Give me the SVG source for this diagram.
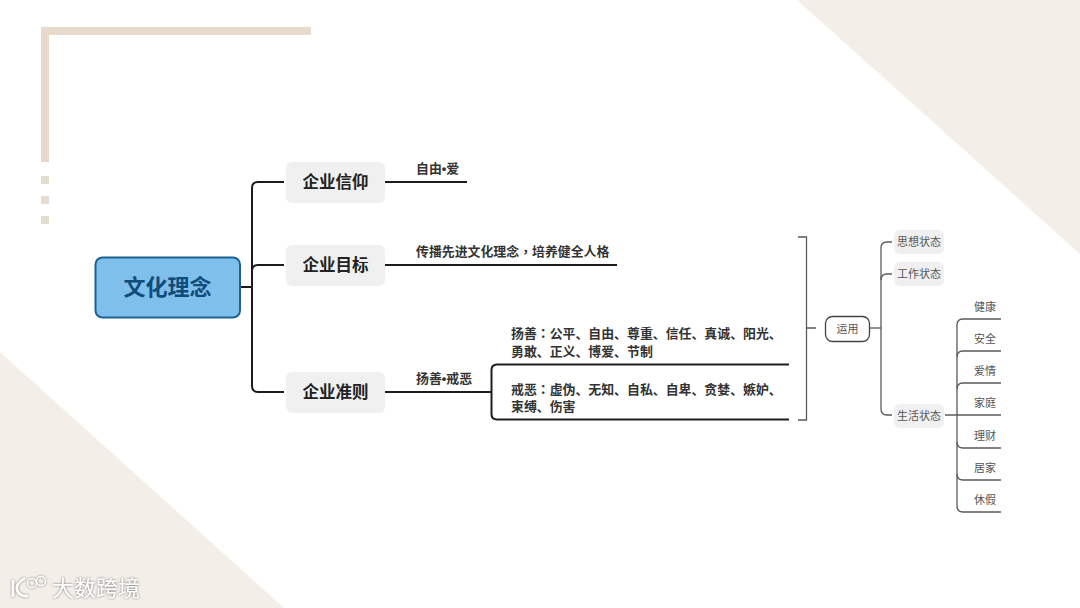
<svg xmlns="http://www.w3.org/2000/svg" width="1080" height="608" viewBox="0 0 1080 608">
<defs>
<filter id="blur" x="-5%" y="-5%" width="110%" height="110%"><feGaussianBlur stdDeviation="0.35"/></filter>
<filter id="glow" x="-10%" y="-20%" width="120%" height="140%"><feDropShadow dx="0" dy="0" stdDeviation="1.2" flood-color="#666" flood-opacity="1"/></filter>
</defs>
<style>
text{font-family:"Noto Sans CJK SC","Noto Sans",sans-serif}
.bg{fill:#f3eee8}
.deco{fill:#e8d9cd}
.dot{fill:#e4dbd2}
.line{fill:none;stroke:#1f1f1f;stroke-width:2}
.gline{fill:none;stroke:#595959;stroke-width:1.3}
.chip{fill:#f0f0f0}
.h2{font-size:16.500px;font-weight:700;fill:#222;text-anchor:middle}
.lbl{font-size:12.900px;font-weight:700;fill:#333}
.sep{font-family:"Liberation Sans",sans-serif;font-weight:700}
.tc{font-family:"Noto Sans CJK TC",sans-serif}
.small{font-size:11px;fill:#555;text-anchor:middle}
</style>
<rect width="1080" height="608" fill="#fff"/>
<g id="background">
<polygon class="bg" points="797,0 1080,0 1080,254"/>
<polygon class="bg" points="0,352 284,608 0,608"/>
<rect class="deco" x="41" y="27" width="270" height="8"/>
<rect class="deco" x="41" y="27" width="8" height="135"/>
<rect class="dot" x="41" y="176" width="8" height="8"/>
<rect class="dot" x="41" y="196" width="8" height="8"/>
<rect class="dot" x="41" y="216" width="8" height="8"/>
</g>
<g id="connectors" filter="url(#blur)">
<path class="line" d="M240 287H252"/>
<path class="line" d="M284 182H258Q252 182 252 188V386Q252 392 258 392H284"/>
<path class="line" d="M284 265H258Q252 265 252 271"/>
<path class="line" d="M385 182H467"/>
<path class="line" d="M385 265H617"/>
<path class="line" d="M385 392H491"/>
<path class="line" d="M789 364.500H497Q491.500 364.500 491.500 370V414Q491.500 419.500 497 419.500H789"/>
<path class="gline" d="M798 237H806.500V420H798M806.500 328H816"/>
<path class="gline" d="M869 328H881"/>
<path class="gline" d="M892 242H887Q881 242 881 248V409Q881 415 887 415H892"/>
<path class="gline" d="M892 274H887Q881 274 881 280"/>
<path class="gline" d="M945 415H1001"/>
<path class="gline" d="M1001 319H963Q957 319 957 325V506Q957 512 963 512H1001"/>
<path class="gline" d="M1001 351H963Q957 351 957 357"/>
<path class="gline" d="M1001 383H963Q957 383 957 389"/>
<path class="gline" d="M1001 448H963Q957 448 957 442"/>
<path class="gline" d="M1001 480H963Q957 480 957 474"/>
</g>
<g id="node-root">
<rect x="95.500" y="257.500" width="144.500" height="60" rx="7" fill="#7fbfec" stroke="#1f628f" stroke-width="2"/>
<text x="167.500" y="295" font-size="22" font-weight="700" fill="#0f4c7a" text-anchor="middle">文化理念</text>
</g>
<g id="node-belief">
<rect class="chip" x="286" y="162" width="99" height="41" rx="6"/>
<text class="h2" x="335.500" y="188">企业信仰</text>
</g>
<g id="node-goal">
<rect class="chip" x="286" y="245" width="99" height="41" rx="6"/>
<text class="h2" x="335.500" y="271">企业目标</text>
</g>
<g id="node-rule">
<rect class="chip" x="286" y="372" width="99" height="41" rx="6"/>
<text class="h2" x="335.500" y="398">企业准则</text>
</g>
<g id="label-freedom"><text class="lbl" x="416" y="172.500">自由<tspan class="sep">•</tspan>爱</text></g>
<g id="label-mission"><text class="lbl" x="416" y="255.500">传播先进文化理念<tspan class="tc">，</tspan>培养健全人格</text></g>
<g id="label-virtue"><text class="lbl" x="416" y="382.500">扬善<tspan class="sep">•</tspan>戒恶</text></g>
<g id="label-good">
<text class="lbl" x="511" y="338">扬善<tspan class="tc">：</tspan>公平、自由、尊重、信任、真诚、阳光、</text>
<text class="lbl" x="511" y="355.500">勇敢、正义、博爱、节制</text>
</g>
<g id="label-evil">
<text class="lbl" x="511" y="393.500">戒恶<tspan class="tc">：</tspan>虚伪、无知、自私、自卑、贪婪、嫉妒、</text>
<text class="lbl" x="511" y="410.500">束缚、伤害</text>
</g>
<g id="node-use">
<rect x="825.500" y="316.500" width="44" height="25" rx="7" fill="#fff" stroke="#444" stroke-width="1.300"/>
<text class="small" x="847.500" y="333">运用</text>
</g>
<g id="node-thought"><rect class="chip" x="894" y="230" width="50" height="24" rx="6"/><text class="small" x="919" y="246">思想状态</text></g>
<g id="node-work"><rect class="chip" x="894" y="262" width="50" height="24" rx="6"/><text class="small" x="919" y="278">工作状态</text></g>
<g id="node-life"><rect class="chip" x="894" y="404" width="50" height="24" rx="6"/><text class="small" x="919" y="420">生活状态</text></g>
<g id="node-health"><text class="small" x="985" y="311">健康</text></g>
<g id="node-safety"><text class="small" x="985" y="343">安全</text></g>
<g id="node-love"><text class="small" x="985" y="375">爱情</text></g>
<g id="node-family"><text class="small" x="985" y="407">家庭</text></g>
<g id="node-finance"><text class="small" x="985" y="439.500">理财</text></g>
<g id="node-home"><text class="small" x="985" y="471.500">居家</text></g>
<g id="node-holiday"><text class="small" x="985" y="504">休假</text></g>
<g id="watermark" filter="url(#glow)">
<path d="M13 580V597M25 578Q15 584 17 590Q20 597 28 596" fill="none" stroke="#fff" stroke-width="2.500"/>
<circle cx="32" cy="583" r="4.500" fill="none" stroke="#fff" stroke-width="1.300"/>
<circle cx="41" cy="581" r="4.500" fill="none" stroke="#fff" stroke-width="1.300"/>
<text x="52" y="596" font-size="22" fill="#fff">大数跨境</text>
</g>
</svg>
